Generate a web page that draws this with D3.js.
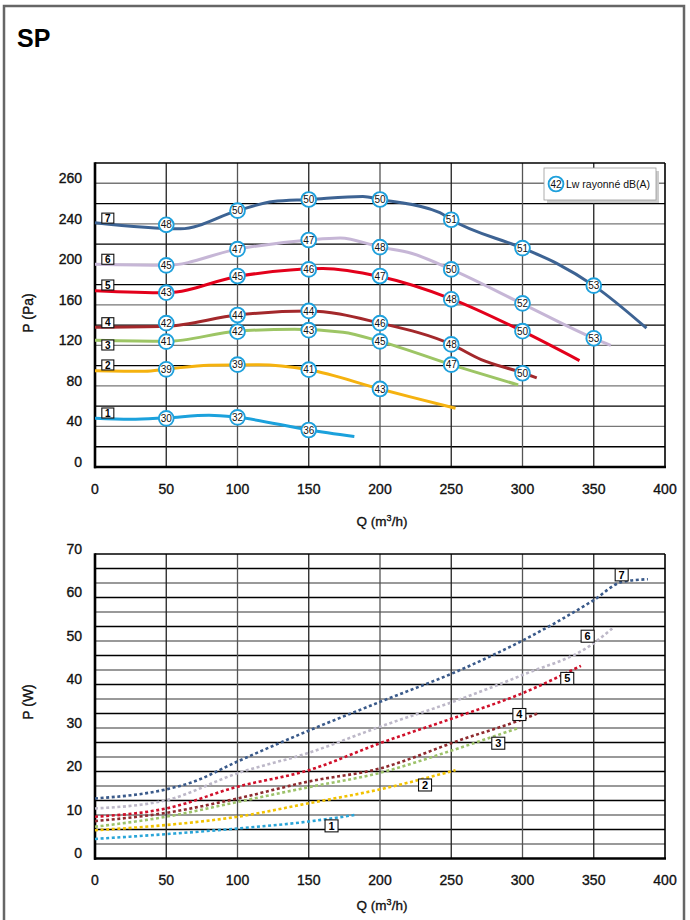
<!DOCTYPE html>
<html>
<head>
<meta charset="utf-8">
<script src="https://cdn.jsdelivr.net/npm/d3@7"></script>
<style>
body { margin: 0; background: #fff; }
text { font-family: "Liberation Sans", Arial, Helvetica, sans-serif; }
.lab { stroke: #111; stroke-width: 0.35px; }
</style>
</head>
<body>
<svg id="chart" width="690" height="920"></svg>
<script>
// axis ticks
var qTicks = [0, 50, 100, 150, 200, 250, 300, 350, 400];
var paTicks = [0, 40, 80, 120, 160, 200, 240, 280];
var paTickLabels = ["0", "40", "80", "120", "160", "200", "240", "260"];
var wTicks = [0, 10, 20, 30, 40, 50, 60, 70];

// pressure curves P (Pa) vs Q (m3/h), speeds 1..7
var pa1 = [[0,48],[25,47],[50,48.5],[80,51],[100,49],[150,36.5],[182,30]];
var pa2 = [[0,95],[35,94.5],[50,96.5],[80,100.5],[115,101],[150,96],[200,77],[222,69],[253,58]];
var pa3 = [[0,125],[50,124],[100,134],[140,136],[174,133],[200,124],[250,101],[297,81]];
var pa4 = [[0,138],[50,139],[100,150],[150,154],[200,142],[250,121],[271,106],[300,93],[310,88]];
var pa5 = [[0,174],[50,172],[100,188],[160,196],[200,188],[250,166],[300,134],[340,105]];
var pa6 = [[0,200],[50,199],[100,215],[150,224],[172,226],[200,217],[222,211],[250,195],[300,161],[350,127],[362,120]];
var pa7 = [[0,241],[60,235],[100,253],[125,262],[150,264],[188,267],[200,264],[242,251],[250,244],[300,216],[324,201],[350,179],[387,137]];

// Lw rayonne dB(A) markers: [Q, P, dB]
var lw1 = [[50,48,30],[100,49,32],[150,36.5,36]];
var lw2 = [[50,96.4,39],[100,101,39],[150,96,41],[200,77,43]];
var lw3 = [[50,123.7,41],[100,133.5,42],[150,135,43],[200,124,45],[250,101,47]];
var lw4 = [[50,142,42],[100,150,44],[150,154,44],[200,142,46],[250,121,48],[300,92.5,50]];
var lw5 = [[50,172,43],[100,188.5,45],[150,195,46],[200,188.5,47],[250,165.5,48],[300,134,50]];
var lw6 = [[50,199,45],[100,215,47],[150,224,47],[200,217,48],[250,195,50],[300,161.5,52],[350,127,53]];
var lw7 = [[50,239,48],[100,253,50],[150,264,50],[200,264,50],[250,244,51],[300,216,51],[350,179,53]];

// power curves P (W) vs Q (m3/h)
var w1 = [[0,4.5],[50,5.6],[100,6.9],[150,8.5],[182,10]];
var w2 = [[0,6.5],[50,7.7],[100,9.6],[150,12.7],[200,15.9],[253,20.3]];
var w3 = [[0,7.3],[50,9.6],[100,13],[150,16.4],[200,19.7],[250,24.8],[297,30]];
var w4 = [[0,8.6],[50,10.5],[100,13.8],[150,17.7],[200,20.7],[256,27.2],[300,32],[311,33.4]];
var w5 = [[0,9.6],[50,11.5],[100,16.5],[150,20.3],[200,26.5],[256,32.8],[300,38],[341,44.3]];
var w6 = [[0,11.5],[50,13.4],[100,19.6],[150,24.3],[200,30.3],[256,36.6],[300,42.2],[350,49.5],[363,52.9]];
var w7 = [[0,13.8],[50,15.9],[67,17.4],[100,22.3],[150,29.4],[200,36],[256,43.3],[300,50.1],[350,59.4],[370,63.6],[388,64.2]];

// speed label positions [Q, value]
var speedNames = ["1", "2", "3", "4", "5", "6", "7"];
var paLabelPos = [[9,53.3],[9,100.7],[9,120.4],[9,142.4],[9,179.6],[9,205],[9,245.6]];
var wLabelPos = [[166,7.5],[231.6,16.9],[283,26.5],[297.8,33.1],[331.4,41.4],[345.7,51.1],[369.6,65.2]];

var paCurves = [pa1, pa2, pa3, pa4, pa5, pa6, pa7];
var lwMarks = [lw1, lw2, lw3, lw4, lw5, lw6, lw7];
var wCurves = [w1, w2, w3, w4, w5, w6, w7];

var lineColors = ["#1ba1dc", "#f5b20f", "#9dc565", "#a3282b", "#e3001b", "#c6b6d6", "#3d6393"];
var dotColors = ["#2aa5d8", "#f2c200", "#9dc26a", "#8e2a2e", "#d0102a", "#bdb8c8", "#3a5a8a"];

var svg = d3.select("#chart");

// outer frame
svg.append("rect")
    .attr("x", 4).attr("y", 6).attr("width", 680).attr("height", 920)
    .attr("fill", "none").attr("stroke", "#666").attr("stroke-width", 2.5);

svg.append("text")
    .attr("x", 17).attr("y", 47)
    .attr("font-size", "25px").attr("font-weight", "bold")
    .text("SP");

var x = d3.scaleLinear().domain([0, 400]).range([95, 665]);
var yPa = d3.scaleLinear().domain([0, 300]).range([467, 163]);
var yW = d3.scaleLinear().domain([0, 70]).range([858.5, 554]);

// draws grid, frame, ticks for one panel
function panel(y, gridVals, gridColor, ticks, tickLabels, yTitle, titleY, qTitleOff) {
    var g = svg.append("g");
    var y0 = y.range()[0], y1 = y.range()[1];
    g.selectAll(".hg").data(gridVals).enter().append("line")
        .attr("x1", 95).attr("x2", 665)
        .attr("y1", function(d) { return y(d); })
        .attr("y2", function(d) { return y(d); })
        .attr("stroke", gridColor).attr("stroke-width", 1.3);
    g.selectAll(".vg").data(qTicks.slice(1, -1)).enter().append("line")
        .attr("x1", function(d) { return x(d); })
        .attr("x2", function(d) { return x(d); })
        .attr("y1", y1).attr("y2", y0)
        .attr("stroke", function(d, i) { return i % 2 ? "#555" : "#222"; })
        .attr("stroke-width", 1.3);
    // frame
    g.append("line").attr("x1", 95).attr("x2", 665).attr("y1", y1).attr("y2", y1)
        .attr("stroke", "#000").attr("stroke-width", 1.6);
    g.append("line").attr("x1", 665).attr("x2", 665).attr("y1", y1).attr("y2", y0)
        .attr("stroke", "#000").attr("stroke-width", 1.6);
    g.append("line").attr("x1", 95).attr("x2", 95).attr("y1", y1 - 0.8).attr("y2", y0 + 1.2)
        .attr("stroke", "#000").attr("stroke-width", 2.6);
    g.append("line").attr("x1", 94).attr("x2", 666).attr("y1", y0).attr("y2", y0)
        .attr("stroke", "#000").attr("stroke-width", 2.6);

    // y tick labels
    g.selectAll(".yt").data(ticks).enter().append("text")
        .attr("class", "lab")
        .attr("x", 82)
        .attr("y", function(d) { return y(d) - 5; })
        .attr("dy", "0.35em")
        .attr("text-anchor", "end")
        .attr("font-size", "14px")
        .attr("fill", "#111")
        .text(function(d, i) { return tickLabels[i]; });
    // x tick labels
    g.selectAll(".xt").data(qTicks).enter().append("text")
        .attr("class", "lab")
        .attr("x", function(d) { return x(d); })
        .attr("y", y0 + 22)
        .attr("dy", "0.35em")
        .attr("text-anchor", "middle")
        .attr("font-size", "14px")
        .attr("fill", "#111")
        .text(function(d) { return d; });
    // axis titles
    g.append("text")
        .attr("class", "lab")
        .attr("transform", "translate(33," + titleY + ") rotate(-90)")
        .attr("text-anchor", "middle")
        .attr("font-size", "14px")
        .attr("fill", "#111")
        .text(yTitle);
    var qt = g.append("text")
        .attr("class", "lab")
        .attr("x", 382).attr("y", y0 + qTitleOff)
        .attr("text-anchor", "middle")
        .attr("font-size", "13.5px")
        .attr("fill", "#111");
    qt.append("tspan").text("Q (m");
    qt.append("tspan").attr("font-size", "9px").attr("dy", -5).text("3");
    qt.append("tspan").attr("dy", 5).text("/h)");
    return g;
}

function speedBox(g, cx, cy, name, w, h, fs) {
    g.append("rect")
        .attr("x", cx - w / 2).attr("y", cy - h / 2)
        .attr("width", w).attr("height", h)
        .attr("fill", "#fff").attr("stroke", "#111").attr("stroke-width", 1.1);
    g.append("text")
        .attr("x", cx).attr("y", cy)
        .attr("dy", "0.36em")
        .attr("text-anchor", "middle")
        .attr("font-size", fs)
        .attr("font-weight", "bold")
        .text(name);
}

// ---- top chart: pressure ----
var paGrid = d3.range(20, 300, 20);
var gTop = panel(yPa, paGrid, function(d) { return d % 40 == 0 ? "#777" : "#000"; },
    paTicks, paTickLabels, "P (Pa)", 313, 59);

var paLine = d3.line()
    .x(function(d) { return x(d[0]); })
    .y(function(d) { return yPa(d[1]); })
    .curve(d3.curveMonotoneX);

paCurves.forEach(function(c, i) {
    gTop.append("path")
        .attr("d", paLine(c))
        .attr("fill", "none")
        .attr("stroke", lineColors[i])
        .attr("stroke-width", 3)
        .attr("stroke-linejoin", "round");
});

paLabelPos.forEach(function(p, i) {
    speedBox(gTop, x(p[0]), yPa(p[1]), speedNames[i], 12, 10, "10px");
});

function lwMarker(g, cx, cy, val) {
    g.append("circle")
        .attr("cx", cx).attr("cy", cy).attr("r", 7.4)
        .attr("fill", "#fff").attr("stroke", "#1ea0dc").attr("stroke-width", 1.9);
    g.append("text")
        .attr("x", cx).attr("y", cy)
        .attr("dy", "0.36em")
        .attr("text-anchor", "middle")
        .attr("font-size", "10px")
        .attr("fill", "#111")
        .text(val);
}

lwMarks.forEach(function(m) {
    m.forEach(function(d) {
        lwMarker(gTop, x(d[0]), yPa(d[1]), d[2]);
    });
});

// legend
gTop.append("rect")
    .attr("x", 547).attr("y", 171).attr("width", 112).attr("height", 32)
    .attr("fill", "#ccc");
gTop.append("rect")
    .attr("x", 544).attr("y", 168).attr("width", 112).attr("height", 32)
    .attr("fill", "#fff").attr("stroke", "#999").attr("stroke-width", 0.8);
lwMarker(gTop, 556, 184, "42");
gTop.append("text")
    .attr("x", 566).attr("y", 184)
    .attr("dy", "0.36em")
    .attr("font-size", "10.5px")
    .attr("fill", "#111")
    .text("Lw rayonné dB(A)");

// ---- bottom chart: power ----
var wGrid = d3.range(1, 21).map(function(k) { return k * 70 / 21; });
var gBot = panel(yW, wGrid, function(d) {
        var k = Math.round(d * 21 / 70);
        return k % 2 == 0 ? "#000" : "#777";
    }, wTicks, wTicks.map(String), "P (W)", 702, 51);

var wLine = d3.line()
    .x(function(d) { return x(d[0]); })
    .y(function(d) { return yW(d[1]); })
    .curve(d3.curveMonotoneX);

wCurves.forEach(function(c, i) {
    gBot.append("path")
        .attr("d", wLine(c))
        .attr("fill", "none")
        .attr("stroke", dotColors[i])
        .attr("stroke-width", 2.6)
        .attr("stroke-dasharray", "3,2.6");
});

wLabelPos.forEach(function(p, i) {
    speedBox(gBot, x(p[0]), yW(p[1]), speedNames[i], 13, 12, "11px");
});
</script>
</body>
</html>
